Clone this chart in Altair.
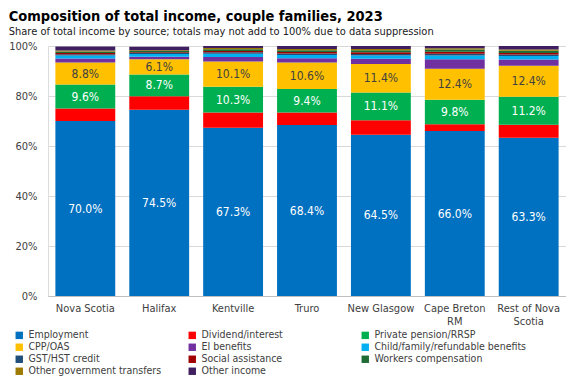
import altair as alt
import pandas as pd

regions = ["Nova Scotia", "Halifax", "Kentville", "Truro", "New Glasgow", "Cape Breton RM", "Rest of Nova Scotia"]
sources = ["Employment", "Dividend/interest", "Private pension/RRSP", "CPP/OAS", "EI benefits",
           "Child/family/refundable benefits", "GST/HST credit", "Social assistance",
           "Workers compensation", "Other government transfers", "Other income"]
colors = ["#0070C0", "#FF0000", "#00B050", "#FFC000", "#7030A0", "#00B0F0", "#1F4E79",
          "#A00000", "#1E6B35", "#9C7B00", "#3F1F5F"]
# legend entries fill column by column; this order yields the reference's row-wise reading
legend_order = ["Employment", "CPP/OAS", "GST/HST credit", "Other government transfers",
                "Dividend/interest", "EI benefits", "Social assistance", "Other income",
                "Private pension/RRSP", "Child/family/refundable benefits", "Workers compensation"]

employment = [70.0, 74.5, 67.3, 68.4, 64.5, 66.0, 63.3]
dividend = [5.0, 5.4, 6.1, 5.0, 5.8, 2.7, 5.2]
pension = [9.6, 8.7, 10.3, 9.4, 11.1, 9.8, 11.2]
cpp = [8.8, 6.1, 10.1, 10.6, 11.4, 12.4, 12.4]
ei = [1.6, 1.0, 1.8, 1.7, 2.1, 3.8, 2.5]
child = [1.2, 1.1, 1.3, 1.3, 1.3, 1.5, 1.4]
gst = [0.5, 0.4, 0.6, 0.6, 0.6, 0.7, 0.6]
social = [0.5, 0.3, 0.5, 0.6, 0.7, 0.8, 0.6]
workers = [0.6, 0.5, 0.7, 0.7, 0.8, 0.9, 0.9]
other_govt = [0.4, 0.3, 0.5, 0.5, 0.5, 0.5, 0.5]
other_income = [1.6, 1.4, 0.8, 1.2, 1.2, 0.9, 1.4]

series = [employment, dividend, pension, cpp, ei, child, gst, social, workers, other_govt, other_income]
labelled = {"Employment": "white", "Private pension/RRSP": "white", "CPP/OAS": "dark"}

rows = []
for si, (src, vals) in enumerate(zip(sources, series)):
    for r, v in zip(regions, vals):
        rows.append({"region": r, "source": src, "order": si, "value": v,
                     "lab": labelled.get(src, "")})
df = pd.DataFrame(rows)

FONT = "DejaVu Sans Condensed, Liberation Sans Narrow, Roboto, sans-serif"

base = alt.Chart(df).transform_stack(
    stack="value", groupby=["region"], as_=["v0", "v1"],
    sort=[alt.SortField("order", order="ascending")]
)

x = alt.X("region:N", sort=regions, title=None,
          scale=alt.Scale(paddingInner=0.19, paddingOuter=0.1),
          axis=alt.Axis(labelAngle=0, labelFontSize=11, labelColor="#404040", labelFont=FONT,
                        domainColor="#BFBFBF", ticks=False, labelPadding=6, labelLineHeight=13,
                        labelExpr="datum.label == 'Cape Breton RM' ? ['Cape Breton', 'RM'] : datum.label == 'Rest of Nova Scotia' ? ['Rest of Nova', 'Scotia'] : datum.label"))

bars = base.mark_bar().encode(
    x=x,
    y=alt.Y("v0:Q", scale=alt.Scale(domain=[0, 100]), title=None,
            axis=alt.Axis(values=list(range(0, 101, 10)), labelExpr="datum.value + '%'",
                          labelFontSize=11, labelColor="#404040", labelFont=FONT,
                          gridColor="#D9D9D9", domain=False, ticks=False, labelPadding=11)),
    y2="v1:Q",
    color=alt.Color("source:N", scale=alt.Scale(domain=sources, range=colors), title=None,
                    legend=alt.Legend(orient="none", legendX=-34, legendY=284,
                                      values=legend_order,
                                      columns=3, gridAlign="all", columnPadding=6,
                                      symbolType="square", symbolSize=55, symbolStrokeWidth=0,
                                      labelFontSize=10.5, labelFont=FONT, labelColor="#404040",
                                      rowPadding=1, labelLimit=300, labelOffset=4)),
    order=alt.Order("order:Q"),
)

texts = base.transform_filter("datum.lab != ''").transform_calculate(
    mid="(datum.v0 + datum.v1) / 2",
    txt="format(datum.value, '.1f') + '%'"
).mark_text(fontSize=12, font=FONT).encode(
    x=alt.X("region:N", sort=regions),
    y=alt.Y("mid:Q"),
    text="txt:N",
    color=alt.condition("datum.lab == 'white'", alt.value("white"), alt.value("#404040")),
)

chart = alt.layer(bars, texts).properties(
    width=518, height=250,
    title=alt.TitleParams("Composition of total income, couple families, 2023",
                          subtitle="Share of total income by source; totals may not add to 100% due to data suppression",
                          anchor="start", font=FONT, fontSize=14.5, fontWeight="bold", color="black",
                          subtitleFont=FONT, subtitleFontSize=11, subtitleColor="#202020",
                          offset=2, subtitlePadding=2),
).configure_view(stroke=None).configure(padding={"left": 0, "top": 0, "right": 0, "bottom": 0})

chart.save("out.html", embed_options={"renderer": "svg", "actions": False})
